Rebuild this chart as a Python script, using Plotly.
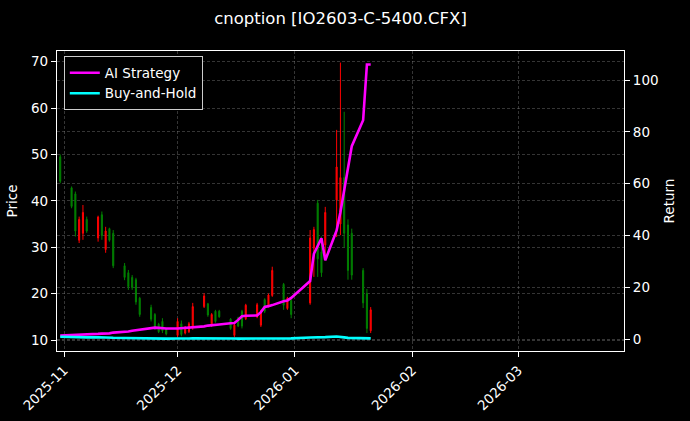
import plotly.graph_objects as go

dates = ["2025-10-31", "2025-11-03", "2025-11-04", "2025-11-05", "2025-11-06", "2025-11-07",
         "2025-11-10", "2025-11-11", "2025-11-12", "2025-11-13", "2025-11-14",
         "2025-11-17", "2025-11-18", "2025-11-19", "2025-11-20", "2025-11-21",
         "2025-11-24", "2025-11-25", "2025-11-26", "2025-11-27", "2025-11-28",
         "2025-12-01", "2025-12-02", "2025-12-03", "2025-12-04", "2025-12-05",
         "2025-12-08", "2025-12-09", "2025-12-10", "2025-12-11", "2025-12-12",
         "2025-12-15", "2025-12-16", "2025-12-17", "2025-12-18", "2025-12-19",
         "2025-12-22", "2025-12-23", "2025-12-24", "2025-12-25", "2025-12-26",
         "2025-12-29", "2025-12-30", "2025-12-31",
         "2026-01-05", "2026-01-06", "2026-01-07", "2026-01-08", "2026-01-09",
         "2026-01-12", "2026-01-13", "2026-01-14", "2026-01-15", "2026-01-16",
         "2026-01-19", "2026-01-20", "2026-01-21"]

open_ = [49.5, 42.8, 41.5, 31.5, 33.0, 36.0, 32.0, 37.0, 29.5, 34.0, 33.0,
         26.0, 24.5, 23.5, 23.0, 19.0, 17.0, 15.5, 13.4, 14.0, 12.4,
         11.0, 13.5, 11.5, 11.8, 12.8, 17.2, 17.8, 13.2, 16.2, 16.2,
         14.5, 11.0, 14.8, 16.2, 14.6, 15.0, 13.2, 18.7, 17.3, 19.6,
         22.0, 16.8, 18.5, 18.0, 29.8, 39.5, 29.0, 30.5,
         40.2, 35.0, 45.0, 34.8, 33.0, 25.0, 20.0, 12.0]
high = [50.0, 43.1, 42.0, 36.6, 39.1, 36.6, 36.8, 37.7, 34.4, 34.2, 33.7,
        26.6, 25.1, 24.0, 23.4, 19.3, 17.6, 15.8, 13.7, 14.7, 12.6,
        14.7, 14.2, 13.0, 13.9, 18.0, 20.1, 18.0, 15.8, 16.5, 16.5,
        14.7, 13.7, 15.0, 16.5, 17.8, 18.0, 16.5, 19.0, 20.0, 25.8,
        22.3, 19.3, 19.0, 33.7, 34.4, 40.2, 32.3, 38.7,
        55.3, 69.8, 59.2, 36.0, 34.0, 25.5, 21.0, 17.1]
low = [43.8, 38.4, 32.3, 30.9, 31.6, 33.1, 31.2, 31.6, 28.8, 31.2, 25.5,
       22.9, 20.8, 20.8, 17.6, 15.0, 14.0, 12.2, 11.5, 11.5, 11.0,
       10.6, 10.8, 11.2, 11.5, 12.2, 16.9, 15.0, 12.8, 13.7, 14.8,
       12.2, 10.6, 12.8, 12.5, 14.3, 14.7, 12.8, 15.8, 17.0, 19.3,
       16.5, 16.5, 14.7, 17.6, 23.6, 23.6, 23.6, 27.2,
       32.2, 32.6, 29.9, 23.0, 23.0, 16.9, 11.5, 11.5]
close = [44.2, 38.8, 33.5, 36.0, 37.5, 33.5, 36.5, 32.5, 33.5, 31.5, 26.0,
         23.5, 21.5, 21.3, 18.2, 15.5, 14.5, 12.8, 11.8, 12.0, 11.3,
         14.0, 11.2, 12.8, 13.5, 17.2, 19.5, 15.4, 15.5, 14.0, 15.0,
         12.5, 13.2, 13.0, 13.0, 17.5, 17.6, 16.0, 16.2, 19.7, 25.0,
         17.5, 19.0, 15.5, 32.0, 33.8, 27.5, 24.5, 37.5,
         47.3, 45.0, 33.0, 25.0, 24.0, 18.0, 12.5, 16.5]

ai_strategy = [1.5, 1.6, 1.7, 1.8, 1.9, 2.0, 2.1, 2.2, 2.2, 2.3, 2.6,
               2.8, 3.0, 3.3, 3.5, 3.7, 4.2, 4.5, 4.4, 4.3, 4.2,
               4.2, 4.3, 4.3, 4.4, 4.5, 5.0, 5.3, 5.5, 5.5, 5.7,
               6.2, 6.3, 7.5, 8.9, 9.1, 9.2, 10.5, 12.5, 12.8, 13.2,
               14.7, 15.0, 16.0, 22.5, 33.0, 36.0, 39.0, 30.5,
               42.0, 49.0, 58.0, 66.0, 74.5, 84.5, 106.0, 106.0]
buy_hold = [1.00, 0.88, 0.76, 0.81, 0.85, 0.76, 0.83, 0.74, 0.76, 0.71, 0.59,
            0.53, 0.49, 0.48, 0.41, 0.35, 0.33, 0.29, 0.27, 0.27, 0.26,
            0.32, 0.25, 0.29, 0.31, 0.39, 0.44, 0.35, 0.35, 0.32, 0.34,
            0.28, 0.30, 0.29, 0.29, 0.40, 0.40, 0.36, 0.37, 0.45, 0.57,
            0.40, 0.43, 0.35, 0.72, 0.76, 0.62, 0.55, 0.85,
            1.07, 1.02, 0.75, 0.57, 0.54, 0.41, 0.28, 0.37]

month_ticks = ["2025-11-01", "2025-12-01", "2026-01-01", "2026-02-01", "2026-03-01"]
month_labels = ["2025-11", "2025-12", "2026-01", "2026-02", "2026-03"]

FONT = "DejaVu Sans"
GRID = "rgba(140,140,140,0.38)"

fig = go.Figure()
fig.add_trace(go.Candlestick(
    x=dates, open=open_, high=high, low=low, close=close,
    increasing=dict(line=dict(color="#ff0000", width=1), fillcolor="#ff0000"),
    decreasing=dict(line=dict(color="#008000", width=1), fillcolor="#008000"),
    showlegend=False, name="Price", whiskerwidth=0,
))
fig.add_trace(go.Scatter(x=dates, y=ai_strategy, mode="lines", name="AI Strategy",
                         line=dict(color="#ff00ff", width=2.6), yaxis="y2"))
fig.add_trace(go.Scatter(x=dates, y=buy_hold, mode="lines", name="Buy-and-Hold",
                         line=dict(color="#00ffff", width=2.6), yaxis="y2"))

axis_common = dict(
    showline=True, linecolor="white", linewidth=1.2,
    ticks="outside", ticklen=5, tickwidth=1, tickcolor="white",
    tickfont=dict(family=FONT, size=13.5, color="white"),
    showgrid=True, gridcolor=GRID, gridwidth=0.7, griddash="3px,2px",
    zeroline=False, automargin=False,
)

fig.update_layout(
    width=690, height=421,
    paper_bgcolor="black", plot_bgcolor="black",
    margin=dict(l=57, r=66, t=51, b=70),
    boxgap=0.6,
    title=dict(text="cnoption [IO2603-C-5400.CFX]", x=0.5, xanchor="center",
               xref="paper", y=1 - 18 / 421, yanchor="middle", yref="container",
               font=dict(family=FONT, size=16.5, color="white"), automargin=False),
    font=dict(family=FONT, color="white"),
    xaxis=dict(
        axis_common, type="date",
        range=["2025-10-30 03:36", "2026-03-28 21:36"],
        tickvals=month_ticks, ticktext=month_labels, tickangle=-45,
        rangeslider=dict(visible=False), mirror=True,
    ),
    yaxis=dict(
        axis_common, range=[7.63, 72.3], dtick=10, tick0=0, mirror=True,
        title=dict(text="Price", font=dict(family=FONT, size=13.5, color="white"), standoff=10),
    ),
    yaxis2=dict(
        axis_common, overlaying="y", side="right", range=[-4.5, 111.2], dtick=20, tick0=0,
        title=dict(text="Return", font=dict(family=FONT, size=13.5, color="white"), standoff=6),
    ),
    legend=dict(x=0.012, y=0.982, xanchor="left", yanchor="top",
                bgcolor="black", bordercolor="#cccccc", borderwidth=1,
                font=dict(family=FONT, size=13.5, color="white"),
                tracegroupgap=0, itemwidth=30),
    showlegend=True,
)

fig.write_html("out.html", config={"displayModeBar": False},
               post_script="document.body.style.margin='0';document.body.style.background='black';")
